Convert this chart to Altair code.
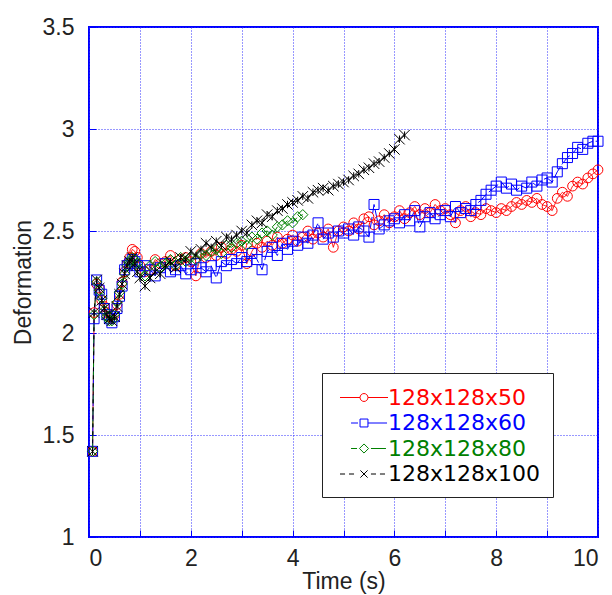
import altair as alt
import pandas as pd

series_names = ["128x128x50", "128x128x60", "128x128x80", "128x128x100"]
series_colors = ["#ff0000", "#0000ff", "#008000", "#000000"]
series_dash = [[1, 0], [12, 3], [8, 4], [4, 4]]
marker_shapes = ["circle", "square", "diamond", "M-1,-1L1,1M-1,1L1,-1M0,-0.7L0,0.7"]
marker_sizes = [95, 110, 55, 110]
legend_symbols = [
    "M-2,0L-0.33,0M0.33,0L2,0M-0.33,0A0.33,0.33 0 1,0 0.33,0A0.33,0.33 0 1,0 -0.33,0",
    "M-1.08,0L-0.5,0M-0.33,-0.33L0.33,-0.33L0.33,0.33L-0.33,0.33ZM0.33,0L1.92,0",
    "M-1.08,0L-0.58,0M-0.38,0L0,-0.38L0.38,0L0,0.38ZM0.58,0L1.83,0",
    "M-2,0L-1.58,0M-1.25,0L-0.83,0M-0.3,-0.3L0.3,0.3M-0.3,0.3L0.3,-0.3M0.58,0L1,0M1.33,0L1.75,0",
]

# sampling times (s)
t_early = [0.07, 0.1, 0.15, 0.2, 0.25, 0.3, 0.35, 0.4, 0.45, 0.5,
           0.55, 0.6, 0.65, 0.7, 0.75, 0.8, 0.85, 0.9, 0.95]
t_late = [round(1.0 + 0.1 * i, 1) for i in range(91)]

# deformation values
def_50 = [1.42, 2.10, 2.24, 2.22, 2.16, 2.13, 2.10, 2.08, 2.07, 2.09,
          2.14, 2.19, 2.25, 2.30, 2.34, 2.37, 2.41, 2.40, 2.37,
          2.33, 2.30, 2.31, 2.36, 2.34, 2.35, 2.38, 2.33, 2.36, 2.37,
          2.35, 2.28, 2.39, 2.37, 2.40, 2.38, 2.42, 2.39, 2.41, 2.40,
          2.43, 2.34, 2.40, 2.44, 2.42, 2.45, 2.43, 2.47, 2.44, 2.46,
          2.48, 2.45, 2.47, 2.50, 2.46, 2.49, 2.47, 2.51, 2.42, 2.50,
          2.52, 2.50, 2.54, 2.51, 2.56, 2.57, 2.53, 2.55, 2.58, 2.54,
          2.57, 2.60, 2.56, 2.59, 2.62, 2.58, 2.61, 2.59, 2.63, 2.60,
          2.61, 2.58, 2.54, 2.60, 2.62, 2.57, 2.59, 2.58, 2.61, 2.60,
          2.59, 2.61, 2.60, 2.62, 2.64, 2.63, 2.65, 2.64, 2.66, 2.63,
          2.62, 2.60, 2.66, 2.69, 2.67, 2.72, 2.74, 2.73, 2.76, 2.78,
          2.80]
def_60 = [1.42, 2.07, 2.26, 2.21, 2.19, 2.12, 2.09, 2.07, 2.05, 2.08,
          2.12, 2.18, 2.23, 2.31, 2.33, 2.34, 2.36, 2.35, 2.33,
          2.30, 2.33, 2.31, 2.28, 2.32, 2.34, 2.30, 2.31, 2.33, 2.29,
          2.31, 2.34, 2.32, 2.30, 2.33, 2.27, 2.35, 2.33, 2.36, 2.34,
          2.37, 2.35, 2.39, 2.36, 2.31, 2.40, 2.42, 2.38, 2.44, 2.41,
          2.45, 2.43, 2.47, 2.44, 2.48, 2.54, 2.46, 2.49, 2.47, 2.50,
          2.49, 2.51, 2.48, 2.52, 2.50, 2.47, 2.63, 2.51, 2.53, 2.55,
          2.56, 2.54, 2.58, 2.55, 2.60, 2.52, 2.57, 2.59, 2.56, 2.58,
          2.60, 2.57, 2.62, 2.59, 2.61, 2.60, 2.63, 2.65, 2.68, 2.70,
          2.72, 2.74, 2.71, 2.73, 2.70, 2.72, 2.71, 2.74, 2.72, 2.75,
          2.76, 2.74, 2.79, 2.83, 2.86, 2.88, 2.91, 2.90, 2.93, 2.94,
          2.94]
def_80 = [1.42, 2.09, 2.25, 2.21, 2.17, 2.11, 2.08, 2.06, 2.06, 2.09,
          2.15, 2.20, 2.24, 2.29, 2.33, 2.35, 2.37, 2.36, 2.34,
          2.31, 2.28, 2.33, 2.35, 2.32, 2.34, 2.36, 2.33, 2.37, 2.35,
          2.37, 2.36, 2.39, 2.38, 2.40, 2.41, 2.39, 2.43, 2.42, 2.44,
          2.45, 2.43, 2.47, 2.46, 2.49, 2.50, 2.48, 2.52, 2.53, 2.55,
          2.54, 2.57, 2.58]
def_100 = [1.42, 2.10, 2.26, 2.22, 2.16, 2.12, 2.09, 2.07, 2.06, 2.08,
           2.13, 2.19, 2.24, 2.29, 2.33, 2.35, 2.37, 2.34, 2.30,
           2.27, 2.23, 2.27, 2.30, 2.29, 2.33, 2.35, 2.32, 2.37, 2.36,
           2.40, 2.38, 2.41, 2.44, 2.42, 2.45, 2.43, 2.47, 2.46, 2.48,
           2.50, 2.49, 2.53, 2.55, 2.54, 2.58, 2.57, 2.60, 2.61, 2.63,
           2.64, 2.65, 2.67, 2.66, 2.69, 2.70, 2.71, 2.70, 2.72, 2.73,
           2.74, 2.75, 2.77, 2.78, 2.80, 2.81, 2.83, 2.84, 2.86, 2.88,
           2.90, 2.95, 2.97]

all_t = t_early + t_late
rows = []
for name, vals in zip(series_names, [def_50, def_60, def_80, def_100]):
    for i, (tt, v) in enumerate(zip(all_t[:len(vals)], vals)):
        rows.append({"t": tt, "v": v, "series": name, "order": i})
df = pd.DataFrame(rows)

x = alt.X("t:Q", scale=alt.Scale(domain=[0, 10], nice=False),
          axis=alt.Axis(values=list(range(11)),
                        labelExpr="datum.value % 2 == 0 ? datum.label : ''",
                        title="Time (s)", titlePadding=0, labelPadding=17))
y = alt.Y("v:Q", scale=alt.Scale(domain=[1, 3.5], nice=False, zero=False),
          axis=alt.Axis(values=[1, 1.5, 2, 2.5, 3, 3.5], format="~g",
                        title="Deformation", titlePadding=7, labelPadding=22))
color_scale = alt.Scale(domain=series_names, range=series_colors)
color = alt.Color("series:N", scale=color_scale, legend=None)

lines = alt.Chart(df).mark_line(strokeWidth=1).encode(
    x=x, y=y, color=color,
    strokeDash=alt.StrokeDash("series:N", scale=alt.Scale(domain=series_names, range=series_dash), legend=None),
    order="order:Q",
)

points = alt.Chart(df).mark_point(filled=False, strokeWidth=1, opacity=1).encode(
    x=x, y=y, color=color,
    shape=alt.Shape("series:N", scale=alt.Scale(domain=series_names, range=marker_shapes), legend=None),
    size=alt.Size("series:N", scale=alt.Scale(domain=series_names, range=marker_sizes), legend=None),
)

leg = alt.Legend(title=None, orient="none", legendX=233, legendY=346,
                 padding=12, strokeColor="#222", fillColor="white",
                 labelFont="DejaVu Sans", labelFontSize=22,
                 labelColor={"expr": "scale('color', datum.value)"},
                 symbolStrokeColor={"expr": "scale('color', datum.value)"},
                 symbolSize=576, symbolOffset=17.5, labelOffset=11.5,
                 rowPadding=1.5, symbolStrokeWidth=1,
                 symbolFillColor="transparent", symbolOpacity=1)

legend_layer = alt.Chart(df).transform_filter("datum.order == 0").mark_point(
    filled=False, opacity=0).encode(
    x=x, y=y,
    color=alt.Color("series:N", scale=color_scale, legend=leg),
    shape=alt.Shape("series:N", scale=alt.Scale(domain=series_names, range=legend_symbols), legend=leg),
)

chart = alt.layer(lines, points, legend_layer).resolve_scale(shape="independent").properties(
    width=509, height=510,
    autosize=alt.AutoSizeParams(type="none"),
    padding={"left": 81, "top": 19, "right": 6, "bottom": 58},
    background="white",
).configure_view(stroke="#0000ff", strokeWidth=2).configure_axis(
    domain=False, grid=True, gridColor="#3030ff", gridDash=[1, 2], gridWidth=1,
    ticks=True, tickColor="#0000ff", tickSize={"expr": "-7"},
    labelFont="Liberation Sans", labelFontSize=23, labelColor="#222",
    titleFont="Liberation Sans", titleFontSize=23, titleFontWeight="normal", titleColor="#222",
)

chart.save("out.html", embed_options={"renderer": "svg", "actions": False})
